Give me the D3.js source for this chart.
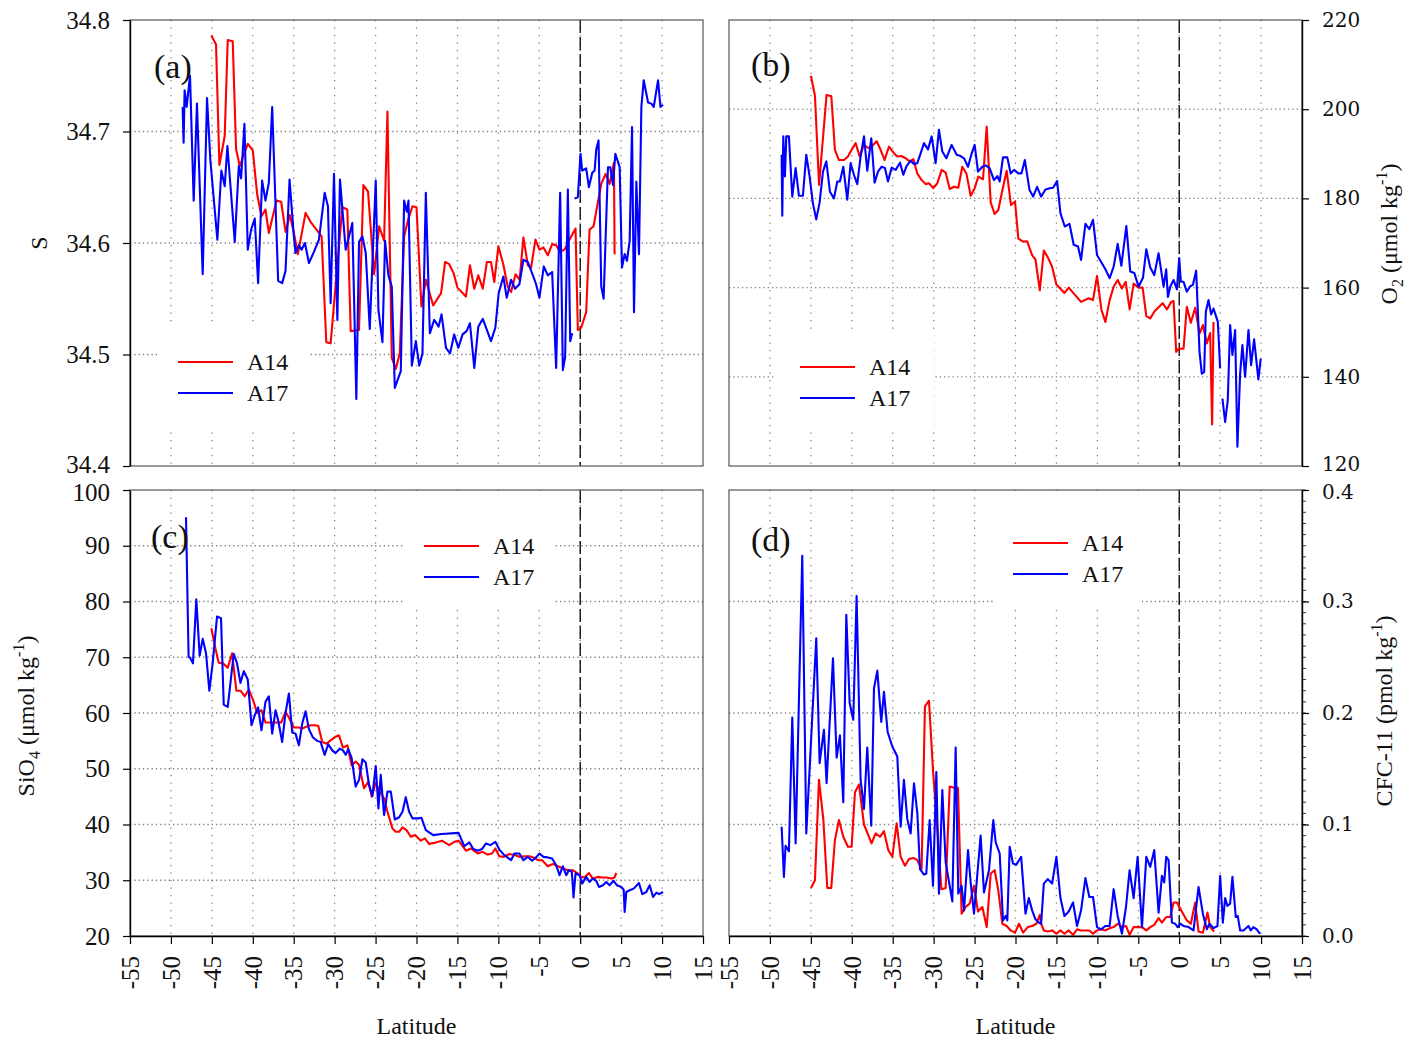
<!DOCTYPE html>
<html>
<head>
<meta charset="utf-8">
<script src="https://cdn.jsdelivr.net/npm/d3@7"></script>
<style>
  body { margin: 0; background: #fff; }
  svg { display: block; }
  text { font-family: "Liberation Serif", "Times New Roman", serif; fill: #111; }
</style>
</head>
<body>
<svg id="fig" width="1421" height="1044"></svg>
<script>
// ---- Tick values ----
const latTicks = [-55, -50, -45, -40, -35, -30, -25, -20, -15, -10, -5, 0, 5, 10, 15];
const sTicks = [34.4, 34.5, 34.6, 34.7, 34.8];
const o2Ticks = [120, 140, 160, 180, 200, 220];
const siTicks = [20, 30, 40, 50, 60, 70, 80, 90, 100];
const cfcTicks = [0, 0.1, 0.2, 0.3, 0.4];

const seriesNames = ["A14", "A17"];
const seriesColors = ["#ff0000", "#0000ff"];

// ---- Salinity [latitude, S]; null marks a break in the section ----
const salA14 = [[-45.06,34.786],[-44.49,34.778],[-44.08,34.670],[-43.43,34.696],[-43.06,34.782],[-42.45,34.781],[-42.04,34.684],[-41.59,34.669],[-40.61,34.689],[-40.0,34.683],[-39.47,34.644],[-38.94,34.624],[-38.45,34.630],[-38.04,34.609],[-37.1,34.638],[-36.53,34.637],[-36.0,34.610],[-35.47,34.625],[-34.98,34.609],[-34.49,34.590],[-33.55,34.627],[-32.94,34.619],[-31.92,34.609],[-31.59,34.606],[-31.02,34.511],[-30.49,34.510],[-29.06,34.632],[-28.45,34.630],[-28.04,34.521],[-27.02,34.522],[-26.49,34.652],[-25.92,34.646],[-25.18,34.572],[-24.57,34.615],[-23.96,34.602],[-23.55,34.718],[-23.02,34.497],[-22.53,34.487],[-22.04,34.501],[-21.51,34.606],[-21.02,34.621],[-20.49,34.633],[-20.0,34.632],[-19.4,34.543],[-18.86,34.567],[-17.96,34.544],[-17.0,34.555],[-16.5,34.583],[-16.0,34.581],[-15.47,34.573],[-15.0,34.560],[-13.96,34.552],[-13.47,34.580],[-12.94,34.559],[-12.45,34.571],[-11.9,34.559],[-11.4,34.583],[-10.9,34.583],[-10.5,34.565],[-10.0,34.597],[-9.4,34.581],[-8.86,34.561],[-8.45,34.556],[-7.9,34.572],[-7.4,34.567],[-6.94,34.605],[-6.4,34.580],[-6.0,34.578],[-5.47,34.603],[-4.98,34.594],[-4.49,34.596],[-3.96,34.589],[-3.43,34.599],[-2.94,34.598],[-2.45,34.592],[-1.92,34.594],[-1.39,34.602],[-0.57,34.613],[-0.29,34.522],[0.12,34.524],[0.73,34.538],[1.14,34.612],[1.63,34.615],[2.57,34.653],[3.1,34.662],[3.59,34.653],[4.12,34.672],[4.2,34.590]];
const salA17 = [[-48.57,34.722],[-48.45,34.690],[-48.33,34.737],[-48.08,34.722],[-47.67,34.750],[-47.22,34.638],[-46.82,34.725],[-46.12,34.572],[-45.59,34.730],[-45.18,34.674],[-44.33,34.603],[-43.84,34.665],[-43.43,34.651],[-43.1,34.687],[-42.2,34.601],[-41.71,34.669],[-41.43,34.658],[-41.02,34.707],[-40.61,34.594],[-40.2,34.612],[-39.76,34.622],[-39.35,34.564],[-38.86,34.656],[-38.45,34.638],[-38.04,34.654],[-37.63,34.722],[-36.9,34.566],[-36.41,34.564],[-36.0,34.575],[-35.51,34.657],[-34.98,34.606],[-34.78,34.591],[-34.37,34.598],[-34.04,34.594],[-33.63,34.600],[-33.14,34.582],[-32.53,34.592],[-31.92,34.603],[-31.22,34.645],[-30.82,34.633],[-30.49,34.546],[-30.08,34.662],[-29.67,34.531],[-29.35,34.657],[-28.65,34.594],[-27.84,34.618],[-27.35,34.460],[-27.02,34.601],[-26.61,34.606],[-26.2,34.591],[-25.71,34.523],[-24.98,34.656],[-24.65,34.540],[-24.16,34.511],[-23.84,34.602],[-23.43,34.571],[-23.02,34.561],[-22.65,34.470],[-21.92,34.485],[-21.51,34.638],[-21.18,34.628],[-20.98,34.638],[-20.57,34.490],[-20.08,34.512],[-19.67,34.490],[-19.27,34.501],[-18.86,34.645],[-18.37,34.519],[-17.84,34.531],[-17.3,34.525],[-16.94,34.536],[-16.4,34.506],[-15.9,34.501],[-15.4,34.518],[-14.9,34.506],[-14.37,34.518],[-13.88,34.521],[-13.47,34.528],[-12.94,34.488],[-12.45,34.525],[-11.9,34.532],[-10.9,34.512],[-10.37,34.524],[-9.96,34.555],[-9.39,34.570],[-8.98,34.551],[-8.45,34.567],[-7.96,34.559],[-7.43,34.563],[-6.94,34.585],[-6.41,34.583],[-5.88,34.573],[-5.39,34.563],[-4.98,34.551],[-4.45,34.579],[-3.96,34.571],[-3.43,34.574],[-2.94,34.488],[-2.45,34.645],[-2.12,34.486],[-1.84,34.498],[-1.51,34.648],[-1.22,34.512],[-0.98,34.519],null,[-0.69,34.640],[-0.29,34.641],[0.04,34.680],[0.24,34.665],[0.73,34.667],[1.06,34.650],[1.47,34.663],[1.76,34.665],[1.96,34.684],[2.24,34.692],[2.57,34.561],[2.86,34.550],[3.39,34.668],[3.67,34.668],[4.0,34.652],[4.29,34.680],[4.82,34.668],[5.1,34.578],[5.43,34.590],[5.71,34.584],[6.04,34.602],[6.33,34.704],[6.57,34.538],[6.86,34.655],[7.18,34.590],[7.47,34.722],[7.76,34.746],[8.29,34.726],[8.69,34.725],[8.98,34.722],[9.51,34.746],[9.8,34.722],[10.12,34.724]];

// ---- Dissolved oxygen [latitude, umol/kg] ----
const o2A14 = [[-44.99,207.5],[-44.5,203.0],[-44.0,183.0],[-43.08,203.2],[-42.5,202.9],[-42.06,190.9],[-41.57,188.6],[-40.96,188.6],[-40.47,189.4],[-40.02,190.9],[-39.53,192.4],[-39.04,189.4],[-38.51,192.0],[-37.98,191.3],[-37.49,191.8],[-36.96,192.8],[-36.48,190.9],[-35.99,188.6],[-35.46,191.6],[-34.93,190.3],[-34.44,189.4],[-33.95,189.5],[-33.42,189.0],[-32.93,188.3],[-32.48,188.8],[-32.0,185.6],[-31.47,184.1],[-30.98,183.2],[-30.57,183.4],[-30.04,182.3],[-29.55,183.4],[-29.02,186.4],[-28.53,185.8],[-28.04,182.1],[-27.51,182.6],[-26.99,182.4],[-26.5,187.1],[-26.0,185.6],[-25.48,180.6],[-24.99,182.3],[-24.54,184.9],[-23.97,184.3],[-23.52,196.1],[-23.03,179.1],[-22.55,176.5],[-22.1,177.4],[-21.6,181.9],[-21.08,186.2],[-20.55,178.5],[-20.06,179.3],[-19.65,171.0],[-19.07,170.3],[-18.58,170.4],[-17.97,167.3],[-17.56,166.3],[-17.03,159.4],[-16.54,168.3],[-16.06,166.8],[-15.53,164.7],[-15.0,160.7],[-14.02,158.8],[-13.5,160.0],[-12.89,158.7],[-11.99,156.8],[-11.06,157.6],[-10.53,157.2],[-10.04,162.6],[-9.51,155.1],[-9.02,152.3],[-8.5,157.2],[-8.01,160.2],[-7.52,161.7],[-7.0,159.8],[-6.54,161.3],[-6.06,155.1],[-5.57,160.9],[-4.96,160.0],[-4.47,160.0],[-4.02,153.6],[-3.54,153.1],[-3.01,154.7],[-2.52,155.6],[-2.03,156.5],[-1.5,155.1],[-0.98,156.8],[-0.69,157.0],[-0.37,145.6],[-0.08,146.3],[0.53,146.3],[0.93,155.7],[1.42,152.1],[1.95,155.5],[2.48,149.7],[2.89,151.6],[3.37,147.5],[3.78,149.8],[4.02,129.3],[4.19,152.3]];
const o2A17 = [[-48.57,189.8],[-48.49,176.1],[-48.37,193.9],[-48.17,184.9],[-48.0,193.9],[-47.68,193.9],[-47.27,180.4],[-46.86,186.8],[-46.46,180.6],[-45.97,180.6],[-45.56,189.8],[-45.15,184.9],[-44.75,178.9],[-44.34,175.3],[-43.93,179.1],[-43.52,186.0],[-43.11,188.3],[-42.67,181.5],[-42.18,180.0],[-41.77,183.8],[-41.45,183.8],[-41.04,187.1],[-40.55,179.7],[-40.14,187.9],[-39.74,185.3],[-39.33,183.2],[-38.92,189.4],[-38.51,193.9],[-38.11,186.2],[-37.62,193.5],[-37.21,183.5],[-36.8,186.0],[-36.35,187.1],[-35.95,186.8],[-35.58,183.8],[-35.13,186.9],[-34.64,186.4],[-34.11,188.0],[-33.71,185.3],[-33.3,187.3],[-32.81,188.4],[-32.4,187.7],[-32.0,187.9],[-31.59,190.1],[-31.18,192.4],[-30.69,191.0],[-30.24,193.9],[-29.76,187.9],[-29.35,195.4],[-28.94,190.5],[-28.45,189.0],[-27.8,192.0],[-27.19,189.8],[-26.7,189.5],[-26.29,189.0],[-25.8,187.1],[-25.4,189.8],[-24.99,192.0],[-24.58,186.0],[-24.05,187.1],[-23.65,187.4],[-23.16,186.8],[-22.63,184.1],[-22.22,185.0],[-21.93,183.8],[-21.53,189.2],[-21.0,189.2],[-20.59,185.6],[-20.18,186.4],[-19.65,185.6],[-19.27,185.6],[-18.86,188.6],[-18.29,181.9],[-17.85,180.4],[-17.36,182.6],[-16.87,180.4],[-16.34,182.0],[-15.81,182.3],[-15.41,182.4],[-14.92,183.9],[-14.51,176.7],[-13.98,173.7],[-13.41,174.3],[-12.89,169.6],[-12.36,169.2],[-11.99,166.2],[-11.46,174.3],[-10.98,173.1],[-10.53,175.2],[-10.04,167.3],[-9.55,165.8],[-9.02,164.1],[-8.5,162.1],[-8.01,164.7],[-7.52,169.8],[-7.07,164.9],[-6.46,173.8],[-5.98,163.6],[-5.49,163.3],[-4.96,160.2],[-4.43,162.2],[-4.02,168.6],[-3.54,164.5],[-3.05,162.8],[-2.52,167.7],[-1.91,160.2],[-1.59,164.1],[-1.38,157.9],[-1.1,160.2],[-0.69,161.7],[-0.28,159.6],[0.0,166.6],[0.2,161.3],[0.53,161.3],[0.93,159.1],[1.34,160.3],[1.67,160.6],[2.07,163.8],[2.48,145.6],[2.76,140.7],[3.05,141.1],[3.25,154.6],[3.58,157.2],[3.9,154.0],[4.19,155.3],[4.72,152.3],[5.0,141.9],null,[5.28,135.1],[5.61,129.9],[5.93,134.7],[6.22,151.6],[6.5,144.9],[6.83,150.5],[7.11,124.3],[7.44,140.7],[7.72,147.1],[8.05,140.0],[8.46,150.5],[8.78,142.6],[9.15,148.4],[9.67,139.4],[9.96,144.1]];

// ---- Silicate [latitude, umol/kg] ----
const siA14 = [[-45.06,75.2],[-44.57,71.6],[-44.16,69.0],[-43.63,68.9],[-43.06,68.1],[-42.53,70.7],[-42.0,64.0],[-41.51,64.0],[-40.98,63.0],[-40.49,64.2],[-39.96,62.3],[-39.47,60.0],[-38.94,60.5],[-38.45,58.3],[-37.92,58.3],[-37.43,58.3],[-36.9,58.3],[-36.53,58.3],[-36.0,60.2],[-35.59,59.2],[-34.98,57.4],[-34.37,57.4],[-33.96,57.2],[-33.55,57.5],[-32.94,57.8],[-32.53,57.8],[-32.0,57.7],[-31.51,54.8],[-30.98,54.5],[-30.49,55.1],[-29.96,55.7],[-29.47,56.0],[-28.98,53.8],[-28.45,54.2],[-27.92,50.6],[-27.43,51.3],[-27.02,50.7],[-26.41,46.5],[-25.88,47.7],[-25.47,45.0],[-24.98,47.5],[-24.49,45.9],[-23.96,44.7],[-23.55,42.3],[-22.94,39.3],[-22.53,38.7],[-22.12,38.7],[-21.71,39.5],[-21.22,39.0],[-20.69,37.8],[-20.16,38.1],[-19.76,37.5],[-19.47,37.1],[-18.98,37.5],[-18.45,36.5],[-17.84,36.7],[-16.9,37.1],[-16.0,36.3],[-15.39,36.9],[-14.86,37.1],[-13.96,35.3],[-13.35,35.7],[-12.53,34.8],[-11.92,35.1],[-11.31,34.6],[-10.78,34.8],[-10.37,35.7],[-9.88,34.3],[-9.35,34.2],[-8.65,34.7],[-7.92,34.5],[-7.43,34.2],[-6.82,34.3],[-6.2,34.3],[-5.71,34.1],[-5.18,33.6],[-4.65,33.6],[-3.96,32.5],[-3.35,32.9],[-2.73,32.5],[-2.12,32.1],[-1.51,31.8],[-0.9,31.8],[-0.29,31.2],[0.12,30.6],[0.53,30.5],[1.06,31.3],[1.55,30.3],[2.16,30.6],[2.69,30.5],[3.18,30.5],[3.8,30.3],[4.2,30.5],[4.41,31.3]];
const siA17 = [[-48.16,95.1],[-47.84,70.1],[-47.63,69.8],[-47.31,68.9],[-46.9,80.4],[-46.49,70.3],[-46.12,73.3],[-45.71,70.7],[-45.31,64.0],[-44.9,68.9],[-44.37,77.3],[-43.88,77.0],[-43.55,61.5],[-43.06,61.1],[-42.33,70.6],[-41.92,68.9],[-41.51,65.4],[-41.1,67.5],[-40.61,66.0],[-40.16,57.8],[-39.76,59.6],[-39.35,61.0],[-38.94,56.9],[-38.45,62.0],[-38.04,63.0],[-37.63,56.3],[-37.22,60.5],[-36.9,58.7],[-36.41,54.8],[-36.0,60.0],[-35.59,63.5],[-35.18,56.5],[-34.78,56.3],[-34.37,54.2],[-33.96,58.1],[-33.55,60.3],[-33.14,57.1],[-32.65,55.6],[-32.12,55.0],[-31.71,54.8],[-31.22,52.5],[-30.78,54.4],[-30.29,53.3],[-29.88,52.8],[-29.39,53.6],[-28.98,53.3],[-28.65,52.5],[-28.33,53.5],[-27.92,51.9],[-27.43,46.8],[-27.02,48.0],[-26.61,51.7],[-26.2,51.1],[-25.8,47.1],[-25.39,45.1],[-24.98,50.5],[-24.65,42.9],[-24.37,48.9],[-23.96,41.7],[-23.55,45.9],[-23.14,45.9],[-22.65,40.9],[-22.12,41.3],[-21.71,42.3],[-21.31,44.9],[-20.9,42.3],[-20.49,41.1],[-19.76,41.1],[-19.39,41.2],[-18.86,39.0],[-17.96,38.1],[-16.94,38.3],[-14.86,38.5],[-14.16,36.1],[-13.55,36.8],[-13.06,35.6],[-12.53,35.3],[-12.0,35.6],[-11.51,36.6],[-10.98,36.3],[-10.37,36.9],[-9.88,35.5],[-9.27,34.5],[-8.45,33.6],[-8.04,34.8],[-7.43,34.8],[-6.94,33.6],[-6.41,34.2],[-5.88,33.5],[-5.39,34.1],[-4.98,34.8],[-4.49,34.2],[-3.96,34.1],[-3.43,33.9],[-2.94,32.7],[-2.53,30.9],[-2.12,32.5],[-1.71,30.9],[-1.39,31.8],[-1.02,31.5],[-0.82,26.9],[-0.57,31.2],[-0.08,30.9],[0.24,29.4],[0.73,30.6],[1.14,29.7],[1.55,30.3],[1.96,29.9],[2.29,28.8],[2.78,29.1],[3.18,29.7],[3.59,29.1],[4.08,29.9],[4.49,29.1],[5.02,28.8],[5.31,28.3],[5.43,24.3],[5.63,27.9],[6.04,28.2],[6.53,28.5],[7.18,29.5],[7.59,27.5],[8.08,27.9],[8.49,29.1],[8.9,27.0],[9.31,27.8],[9.63,27.5],[10.12,27.9]];

// ---- CFC-11 [latitude, pmol/kg] ----
const cfcA14 = [[-44.99,0.043],[-44.5,0.050],[-44.01,0.140],[-43.48,0.105],[-42.99,0.043],[-42.51,0.043],[-42.06,0.086],[-41.57,0.104],[-41.04,0.089],[-40.47,0.080],[-40.02,0.080],[-39.61,0.129],[-39.12,0.136],[-38.51,0.100],[-37.58,0.083],[-37.09,0.092],[-36.56,0.089],[-36.07,0.094],[-35.54,0.077],[-35.05,0.071],[-34.52,0.101],[-34.03,0.071],[-33.5,0.063],[-33.01,0.069],[-32.48,0.070],[-31.99,0.068],[-31.47,0.060],[-31.06,0.206],[-30.57,0.211],[-30.08,0.149],[-29.55,0.096],[-29.06,0.042],[-28.53,0.043],[-28.04,0.134],[-27.51,0.133],[-27.03,0.133],[-26.58,0.020],[-26.09,0.026],[-25.6,0.029],[-25.07,0.045],[-24.58,0.022],[-24.05,0.026],[-23.52,0.008],[-23.03,0.056],[-22.55,0.059],[-22.1,0.041],[-21.61,0.011],[-21.08,0.009],[-20.59,0.005],[-20.06,0.003],[-19.57,0.011],[-19.07,0.003],[-18.5,0.008],[-17.97,0.009],[-17.44,0.011],[-17.03,0.019],[-16.87,0.011],[-16.54,0.005],[-16.06,0.004],[-15.53,0.005],[-15.0,0.002],[-14.51,0.005],[-14.02,0.002],[-13.5,0.005],[-12.97,0.001],[-12.48,0.006],[-11.99,0.005],[-11.46,0.005],[-10.98,0.005],[-10.53,0.002],[-10.04,0.005],[-9.55,0.006],[-9.02,0.005],[-8.5,0.007],[-8.01,0.008],[-7.52,0.011],[-7.0,0.008],[-6.5,0.009],[-6.06,0.001],[-5.57,0.008],[-5.08,0.008],[-4.55,0.008],[-4.02,0.005],[-3.54,0.008],[-3.05,0.010],[-2.52,0.016],[-2.11,0.012],[-1.59,0.017],[-1.1,0.017],[-0.69,0.030],[-0.28,0.030],[0.93,0.014],[1.42,0.011],[1.95,0.030],[2.36,0.004],[2.89,0.003],[3.46,0.021],[3.78,0.008],[4.27,0.004]];
const cfcA17 = [[-48.57,0.098],[-48.29,0.053],[-48.09,0.081],[-47.68,0.076],[-47.27,0.196],[-46.86,0.083],[-46.05,0.341],[-45.56,0.092],[-45.15,0.150],[-44.34,0.267],[-43.93,0.155],[-43.4,0.185],[-43.08,0.137],[-42.3,0.249],[-41.85,0.160],[-41.45,0.180],[-41.04,0.120],[-40.67,0.288],[-40.26,0.209],[-39.82,0.194],[-39.41,0.305],[-38.92,0.140],[-38.51,0.114],[-38.11,0.169],[-37.62,0.099],[-37.29,0.222],[-36.88,0.238],[-36.4,0.192],[-36.07,0.219],[-35.62,0.183],[-35.05,0.170],[-34.44,0.161],[-34.03,0.098],[-33.63,0.140],[-33.22,0.105],[-32.81,0.092],[-32.4,0.137],[-31.99,0.110],[-31.67,0.060],[-31.18,0.055],[-30.9,0.056],[-30.49,0.104],[-30.08,0.045],[-29.67,0.147],[-29.35,0.038],[-28.94,0.131],[-28.53,0.066],[-27.72,0.031],[-27.31,0.169],[-26.99,0.038],[-26.58,0.045],[-26.29,0.023],[-25.8,0.077],[-25.48,0.048],[-25.07,0.020],[-24.26,0.090],[-23.85,0.039],[-23.24,0.059],[-22.71,0.104],[-22.42,0.084],[-21.93,0.074],[-21.53,0.014],[-21.2,0.018],[-21.0,0.014],[-20.71,0.080],[-20.31,0.065],[-19.9,0.064],[-19.57,0.068],[-19.31,0.071],[-18.78,0.020],[-18.37,0.034],[-17.97,0.023],[-17.56,0.015],[-17.15,0.012],[-16.87,0.011],[-16.54,0.047],[-16.06,0.051],[-15.53,0.047],[-15.0,0.071],[-14.51,0.034],[-14.02,0.018],[-13.5,0.022],[-12.97,0.030],[-12.48,0.009],[-11.99,0.023],[-11.46,0.052],[-10.98,0.035],[-10.53,0.035],[-10.04,0.008],[-9.55,0.006],[-9.02,0.009],[-8.5,0.009],[-8.01,0.042],[-7.52,0.018],[-7.0,0.002],[-6.5,0.026],[-6.06,0.059],[-5.57,0.034],[-5.08,0.071],[-4.55,0.008],[-4.02,0.071],[-3.54,0.062],[-3.05,0.077],[-2.52,0.021],[-2.11,0.054],[-1.83,0.048],[-1.59,0.071],[-1.3,0.068],[-0.89,0.012],[-0.49,0.011],[-0.2,0.008],[0.12,0.011],[0.53,0.009],[1.14,0.008],[1.75,0.005],[2.36,0.044],[2.89,0.020],[3.37,0.006],[3.7,0.011],[4.19,0.007],[4.67,0.009],[5.0,0.054],[5.33,0.012],[5.61,0.034],[5.89,0.027],[6.22,0.029],[6.5,0.053],[6.91,0.017],[7.15,0.018],[7.44,0.005],[7.85,0.005],[8.46,0.009],[8.74,0.005],[9.07,0.008],[9.47,0.006],[9.88,0.002]];

// ---- Panel layout ----
const panels = [
  { tag: "(a)", box: [130, 20, 703, 466], dom: [34.4, 34.8], ticks: sTicks, fmt: d3.format(".1f"),
    side: "left", series: [salA14, salA17], xLabels: false, edgeShift: { bottom: -2 },
    leg: [178, 362], legBox: [157, 325, 153, 102], tagPos: [154, 78] },
  { tag: "(b)", box: [729, 20, 1302, 466], dom: [120, 220], ticks: o2Ticks, fmt: d3.format("d"),
    side: "right", series: [o2A14, o2A17], xLabels: false, edgeShift: { bottom: -2 },
    leg: [800, 367], legBox: [774, 333, 160, 97], tagPos: [751, 76] },
  { tag: "(c)", box: [130, 490, 703, 936], dom: [20, 100], ticks: siTicks, fmt: d3.format("d"),
    side: "left", series: [siA14, siA17], xLabels: true, edgeShift: { top: 2 },
    leg: [424, 546], legBox: [403, 491, 150, 119], tagPos: [151, 548] },
  { tag: "(d)", box: [729, 490, 1302, 936], dom: [0, 0.4], ticks: cfcTicks, fmt: d3.format(".1f"),
    side: "right", series: [cfcA14, cfcA17], xLabels: true, minor: true, edgeShift: { top: 2 },
    leg: [1013, 543], legBox: [994, 491, 148, 119], tagPos: [751, 551] }
];

const svg = d3.select("#fig");

panels.forEach(p => {
  const [x0, y0, x1, y1] = p.box;
  const x = d3.scaleLinear().domain([-55, 15]).range([x0, x1]);
  const y = d3.scaleLinear().domain(p.dom).range([y1, y0]);
  const g = svg.append("g");

  // dotted grid
  g.selectAll("line.vgrid").data(latTicks.slice(1, -1)).join("line")
    .attr("x1", d => x(d)).attr("x2", d => x(d)).attr("y1", y0).attr("y2", y1)
    .attr("stroke", "#808080").attr("stroke-width", 1.3).attr("stroke-dasharray", "1.3,6.2");
  g.selectAll("line.hgrid").data(p.ticks.slice(1, -1)).join("line")
    .attr("x1", x0).attr("x2", x1).attr("y1", d => y(d)).attr("y2", d => y(d))
    .attr("stroke", "#808080").attr("stroke-width", 1.3).attr("stroke-dasharray", "1.3,3");

  // legend background hides the grid behind it
  g.append("rect").attr("x", p.legBox[0]).attr("y", p.legBox[1])
    .attr("width", p.legBox[2]).attr("height", p.legBox[3]).attr("fill", "#fff");

  // equator
  g.append("line").attr("x1", x(0)).attr("x2", x(0)).attr("y1", y0).attr("y2", y1)
    .attr("stroke", "#000").attr("stroke-width", 1.3).attr("stroke-dasharray", "13,4");

  // frame
  g.append("rect").attr("x", x0).attr("y", y0).attr("width", x1 - x0).attr("height", y1 - y0)
    .attr("fill", "none").attr("stroke", "#555").attr("stroke-width", 1.2);

  // data lines
  const line = d3.line().defined(d => d !== null).x(d => x(d[0])).y(d => y(d[1]));
  p.series.forEach((s, i) => {
    g.append("path").datum(s).attr("d", line).attr("fill", "none")
      .attr("stroke", seriesColors[i]).attr("stroke-width", 2.1).attr("stroke-linejoin", "round");
  });

  // y axis
  const yAxis = (p.side === "left" ? d3.axisLeft(y) : d3.axisRight(y))
    .tickValues(p.ticks).tickFormat(p.fmt).tickSize(7).tickSizeOuter(0).tickPadding(13);
  const ya = g.append("g").attr("transform", `translate(${p.side === "left" ? x0 : x1},0)`).call(yAxis);
  ya.select(".domain").attr("stroke", "#000").attr("stroke-width", 1.4);
  ya.selectAll(".tick line").attr("stroke", "#000").attr("stroke-width", 1.2);
  const lo = p.dom[0], hi = p.dom[1];
  ya.selectAll(".tick text")
    .style("font-family", p.side === "left" ? "'Liberation Serif', serif" : "'DejaVu Serif', serif")
    .style("font-size", p.side === "left" ? "25px" : "20px").attr("fill", "#111")
    // keep the end labels of stacked panels from running into each other
    .attr("y", d => (d === lo && p.edgeShift.bottom) ? p.edgeShift.bottom
                  : (d === hi && p.edgeShift.top) ? p.edgeShift.top : 0);

  if (p.minor) {
    g.selectAll("line.minor").data(d3.range(0, 41).map(k => k / 100)).join("line")
      .attr("x1", x1).attr("x2", x1 + 4).attr("y1", d => y(d)).attr("y2", d => y(d))
      .attr("stroke", "#000").attr("stroke-width", 0.8);
  }

  // x axis
  if (p.xLabels) {
    const xAxis = d3.axisBottom(x).tickValues(latTicks).tickFormat(d => String(d))
      .tickSize(8).tickSizeOuter(0);
    const xa = g.append("g").attr("transform", `translate(0,${y1})`).call(xAxis);
    xa.select(".domain").attr("stroke", "#000").attr("stroke-width", 1.4);
    xa.selectAll(".tick line").attr("stroke", "#000").attr("stroke-width", 1.2);
    xa.selectAll(".tick text")
      .attr("transform", "rotate(-90)").attr("x", -20).attr("y", 0).attr("dy", "0.33em")
      .style("text-anchor", "end").style("font-family", "'Liberation Serif', serif")
      .style("font-size", "25px").attr("fill", "#111");
    g.append("text").attr("x", (x0 + x1) / 2).attr("y", 1034).attr("text-anchor", "middle")
      .style("font-size", "24px").text("Latitude");
  }

  // panel tag
  g.append("text").attr("x", p.tagPos[0]).attr("y", p.tagPos[1])
    .style("font-size", "34px").text(p.tag);

  // legend
  const lg = g.append("g");
  seriesNames.forEach((name, i) => {
    const ly = p.leg[1] + i * 31;
    lg.append("line").attr("x1", p.leg[0]).attr("x2", p.leg[0] + 55).attr("y1", ly).attr("y2", ly)
      .attr("stroke", seriesColors[i]).attr("stroke-width", 2.1);
    lg.append("text").attr("x", p.leg[0] + 69).attr("y", ly).attr("dy", "0.35em")
      .style("font-size", "24px").text(name);
  });
});

// ---- y-axis titles ----
function title(xp, yp, parts) {
  const t = svg.append("text").attr("transform", `translate(${xp},${yp}) rotate(-90)`)
    .attr("text-anchor", "middle").style("font-size", "24px");
  parts.forEach(([str, kind]) => {
    const ts = t.append("tspan").text(str);
    if (kind === "sub") ts.attr("dy", 6).style("font-size", "16px");
    else if (kind === "sup") ts.attr("dy", -10).style("font-size", "16px");
    else if (kind === "fromSub") ts.attr("dy", -6);
    else if (kind === "fromSup") ts.attr("dy", 10);
  });
  return t;
}
title(47, 243, [["S", ""]]);
title(34, 716, [["SiO", ""], ["4", "sub"], [" (μmol kg", "fromSub"], ["-1", "sup"], [")", "fromSup"]]);
title(1397, 234, [["O", ""], ["2", "sub"], [" (μmol kg", "fromSub"], ["-1", "sup"], [")", "fromSup"]]);
title(1392, 711, [["CFC-11 (pmol kg", ""], ["-1", "sup"], [")", "fromSup"]]);
</script>
</body>
</html>
